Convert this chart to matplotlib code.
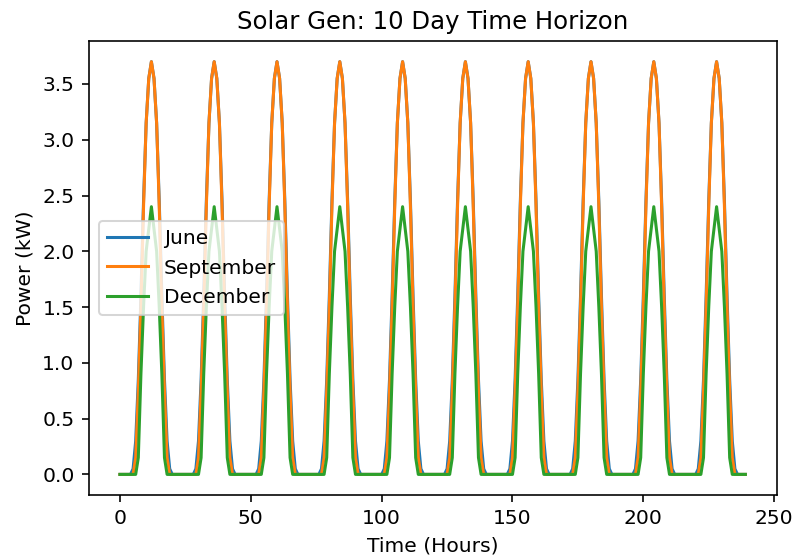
import numpy as np
import matplotlib
matplotlib.use("Agg")
import matplotlib.pyplot as plt

# Hourly daily profiles (kW), hours 0..23
june_day = [0, 0, 0, 0, 0.0, 0.05, 0.3, 0.85, 1.6, 2.45, 3.15, 3.55,
            3.7, 3.55, 3.15, 2.45, 1.6, 0.85, 0.3, 0.05, 0, 0, 0, 0]
september_day = [0, 0, 0, 0, 0, 0, 0.15, 0.75, 1.5, 2.4, 3.15, 3.55,
                 3.7, 3.55, 3.15, 2.4, 1.5, 0.75, 0.15, 0, 0, 0, 0, 0]
december_day = [0, 0, 0, 0, 0, 0, 0, 0.15, 0.9, 1.5, 2.0, 2.2,
                2.4, 2.2, 2.0, 1.5, 0.9, 0.15, 0, 0, 0, 0, 0, 0]
n_days = 10

june = june_day * n_days
september = september_day * n_days
december = december_day * n_days
hours = np.arange(len(june))

dpi = 146
fig = plt.figure(figsize=(795 / dpi, 560 / dpi), dpi=dpi)
ax = fig.add_axes([0.1116, 0.116, 0.8653, 0.8107])
ax.plot(hours, june, label="June")
ax.plot(hours, september, label="September")
ax.plot(hours, december, label="December")
ax.set_title("Solar Gen: 10 Day Time Horizon")
ax.set_xlabel("Time (Hours)")
ax.set_ylabel("Power (kW)")
ax.legend(loc="center left")
fig.savefig("out.png", dpi=dpi)
